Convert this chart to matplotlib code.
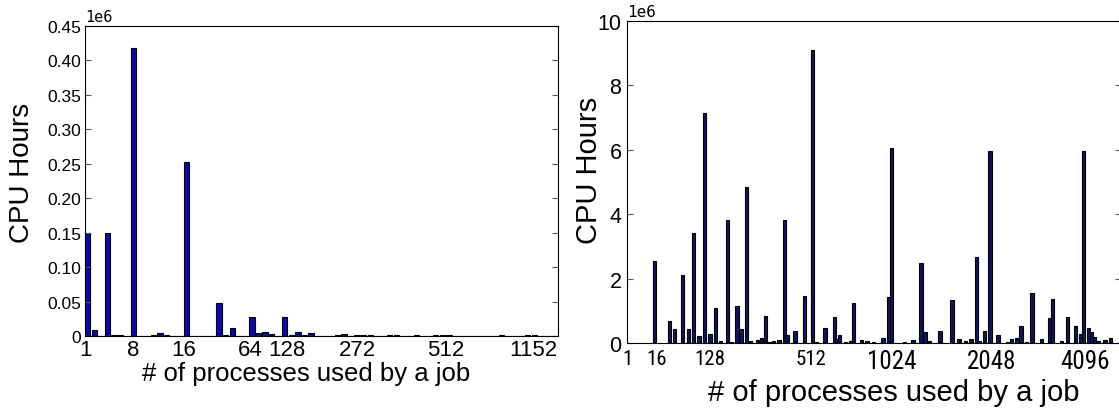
import numpy as np
import matplotlib.pyplot as plt
from matplotlib import font_manager

plt.rcParams['font.family'] = ['Liberation Sans', 'DejaVu Sans']

# left panel: CPU hours (millions) per job-size bin, one value per bin
left_hours = [
    0.150, 0.009, 0, 0.150, 0.0008, 0.0008, 0, 0.418, 0, 0, 0.001, 0.004,
    0.0012, 0, 0, 0.252, 0, 0, 0, 0, 0.048, 0.001, 0.012, 0,
    0, 0.028, 0.005, 0.006, 0.003, 0, 0.028, 0.001, 0.006, 0.001, 0.004, 0,
    0, 0, 0.001, 0.003, 0, 0.001, 0.002, 0.002, 0, 0, 0.001, 0.001,
    0, 0, 0.0008, 0, 0, 0.001, 0.001, 0.001, 0, 0, 0, 0,
    0, 0, 0, 0.0008, 0, 0, 0, 0.001, 0.002, 0, 0, 0,
]
left_labels = ['1', '8', '16', '64', '128', '272', '512', '1152']
left_label_bins = [0, 7.4, 15.0, 25.1, 30.7, 41.4, 54.9, 68.2]
left_yticks = [0, 0.05, 0.10, 0.15, 0.20, 0.25, 0.30, 0.35, 0.40, 0.45]
left_yticklabels = ['0', '0.05', '0.10', '0.15', '0.20', '0.25', '0.30', '0.35', '0.40', '0.45']

# right panel: job-size bin index and CPU hours (millions)
right_bins = [19, 30, 34, 40, 44, 48, 52, 56, 60, 64, 68, 73, 76, 80, 83, 87, 90, 95, 98, 101,
              104, 107, 111, 115, 117, 123, 130, 136, 139, 145, 152, 154, 156, 160, 164, 166,
              172, 176, 181, 188, 192, 194, 204, 210, 216, 219, 222, 230, 239, 244, 249, 253,
              257, 259, 263, 267, 273, 280, 283, 287, 290, 294, 298, 305, 311, 313, 320, 324,
              330, 334, 336, 340, 342, 344, 347, 352, 356]
right_hours = [2.54, 0.67, 0.42, 2.11, 0.42, 3.43, 0.22, 7.15, 0.29, 1.09, 0.05, 3.82, 0.02, 1.14,
               0.44, 4.85, 0.07, 0.09, 0.17, 0.85, 0.03, 0.05, 0.08, 3.82, 0.25, 0.37, 1.45, 9.1,
               0.02, 0.46, 0.81, 0.12, 0.25, 0.03, 0.07, 1.25, 0.08, 0.05, 0.03, 0.17, 1.43, 6.06,
               0.03, 0.09, 2.48, 0.34, 0.06, 0.36, 1.35, 0.13, 0.05, 0.13, 2.67, 0.06, 0.37, 5.96,
               0.26, 0.03, 0.12, 0.17, 0.54, 0.03, 1.55, 0.13, 0.77, 1.37, 0.06, 0.82, 0.54, 0.28,
               5.96, 0.47, 0.35, 0.2, 0.07, 0.08, 0.15]
right_labels = ['1', '16', '128', '512', '1024', '2048', '4096']
right_label_bins = [0.7, 22, 61.5, 136.3, 195.6, 269.6, 338.5]
right_yticks = [0, 2, 4, 6, 8, 10]


def pick_font(candidates):
    for name in candidates:
        try:
            font_manager.findfont(font_manager.FontProperties(family=name),
                                  fallback_to_default=False)
            return name, True
        except ValueError:
            continue
    return 'Liberation Sans', False


narrow_font, is_narrow = pick_font(['Liberation Sans Narrow', 'DejaVu Sans Condensed',
                                    'Roboto Condensed', 'Open Sans Condensed'])
if is_narrow:
    right_label_sizes = [15, 15, 15, 15, 18, 18, 18]
else:
    right_label_sizes = [13, 13, 13, 13, 15.5, 15.5, 15.5]

fig = plt.figure(figsize=(11.19, 4.14), dpi=100)

# left chart
ax1 = fig.add_axes([0.0760, 0.1860, 0.4227, 0.7488])
ax1.bar(np.arange(len(left_hours)), left_hours, width=0.8, align='edge',
        color='#0a0aa8', edgecolor='black', linewidth=0.8)
ax1.set_xlim(0, 72)
ax1.set_ylim(0, 0.45)
ax1.set_yticks(left_yticks)
ax1.set_yticklabels(left_yticklabels, fontsize=12.5)
ax1.set_xticks(left_label_bins)
ax1.set_xticklabels(left_labels, fontsize=16)
ax1.tick_params(axis='x', length=0, pad=2)
ax1.tick_params(axis='y', direction='in', left=True, right=True, length=4, pad=3, color='#555555')
ax1.set_ylabel('CPU Hours', fontsize=20)
ax1.yaxis.set_label_coords(-0.105, 0.53)
ax1.set_xlabel('# of processes used by a job', fontsize=18.5)
ax1.xaxis.set_label_coords(0.467, -0.082)
ax1.text(0.0, 1.005, '1e6', transform=ax1.transAxes, fontsize=11,
         family='DejaVu Sans Mono', va='bottom', ha='left')

# right chart
ax2 = fig.add_axes([0.5603, 0.1691, 0.4415, 0.7778])
ax2.bar(right_bins, right_hours, width=2.45, align='edge',
        color='#14145a', edgecolor='black', linewidth=0.8)
ax2.set_xlim(0, 365)
ax2.set_ylim(0, 10)
ax2.set_yticks(right_yticks)
ax2.set_yticklabels([str(v) for v in right_yticks], fontsize=15.5)
ax2.set_xticks(right_label_bins)
ax2.set_xticklabels(right_labels, family=[narrow_font, 'Liberation Sans'])
for lab, size in zip(ax2.get_xticklabels(), right_label_sizes):
    lab.set_fontsize(size)
ax2.tick_params(axis='x', length=0, pad=4)
ax2.tick_params(axis='y', direction='in', left=True, right=True, length=4, pad=4, color='#555555')
ax2.set_ylabel('CPU Hours', fontsize=21)
ax2.yaxis.set_label_coords(-0.049, 0.54)
ax2.set_xlabel('# of processes used by a job', fontsize=21)
ax2.xaxis.set_label_coords(0.54, -0.11)
ax2.text(0.0, 1.005, '1e6', transform=ax2.transAxes, fontsize=11.5,
         family='DejaVu Sans Mono', va='bottom', ha='left')

fig.savefig('out.png', dpi=100)
